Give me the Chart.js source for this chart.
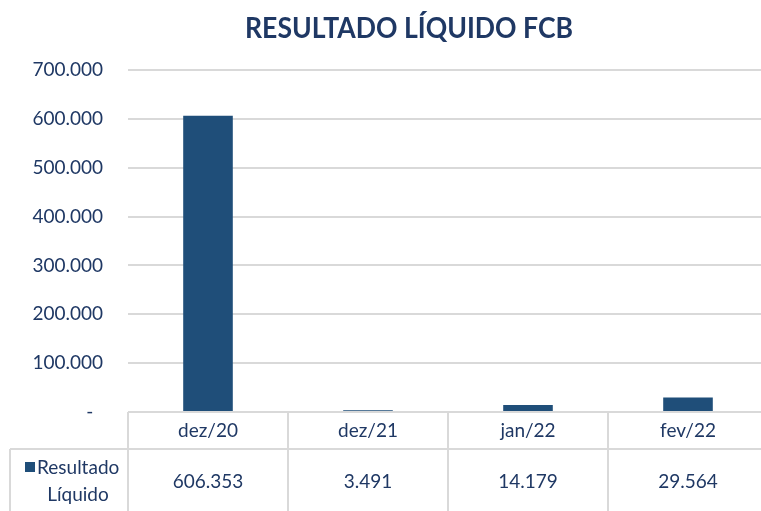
<!DOCTYPE html>
<html>
<head>
<meta charset="utf-8">
<script src="https://cdn.jsdelivr.net/npm/chart.js@4"></script>
<style>
  body { margin:0; background:#fff; }
  #wrap { width:761px; height:511px; overflow:hidden; }
</style>
</head>
<body>
<div id="wrap"><canvas id="chart" width="768" height="511"></canvas></div>
<script>
// data
const chartTitle = "RESULTADO LÍQUIDO FCB";
const categories = ["dez/20", "dez/21", "jan/22", "fev/22"];
const seriesName = ["Resultado", "Líquido"];
const resultadoLiquido = [606353, 3491, 14179, 29564];
const yMax = 700000;
const yStep = 100000;

const navy = "#1f3864";
const barBlue = "#1f4e79";
const lineGray = "#d9d9d9";
const font = "Lato, 'Noto Sans', sans-serif";

function fmt(v){
  if (v === 0) return "-  ";
  return String(v).replace(/\B(?=(\d{3})+(?!\d))/g, ".");
}

// title + data table under the plot
const tablePlugin = {
  id: "tablePlugin",
  afterDraw(chart){
    const ctx = chart.ctx;
    const a = chart.chartArea;
    const x = chart.scales.x;
    const colW = x.getPixelForValue(1) - x.getPixelForValue(0);
    const h = chart.height;
    const rowY = a.bottom + 37;

    ctx.save();
    // title
    ctx.fillStyle = navy;
    ctx.font = "bold 29px " + font;
    ctx.textAlign = "center";
    ctx.textBaseline = "alphabetic";
    ctx.fillText(chartTitle, 409, 38, 328);

    // table lines
    ctx.strokeStyle = lineGray;
    ctx.lineWidth = 2;
    ctx.beginPath();
    ctx.moveTo(a.left, a.bottom); ctx.lineTo(a.right, a.bottom);
    ctx.moveTo(10, rowY); ctx.lineTo(a.right, rowY);
    for (let i = 0; i <= categories.length; i++) {
      const lx = a.left + i * colW;
      ctx.moveTo(lx, a.bottom); ctx.lineTo(lx, h);
    }
    ctx.moveTo(10, rowY); ctx.lineTo(10, h);
    ctx.stroke();

    // header + values
    ctx.font = "19px " + font;
    ctx.textBaseline = "middle";
    ctx.textAlign = "center";
    categories.forEach((c, i) => {
      const cx = x.getPixelForValue(i);
      ctx.fillText(c, cx, a.bottom + 19);
      ctx.fillText(fmt(resultadoLiquido[i]), cx, rowY + 33);
    });

    // legend key
    ctx.fillStyle = barBlue;
    ctx.fillRect(25, 462, 10, 10);
    ctx.fillStyle = navy;
    ctx.textAlign = "left";
    ctx.fillText(seriesName[0], 37, 468);
    ctx.textAlign = "center";
    ctx.fillText(seriesName[1], 78, 495);
    ctx.restore();
  }
};

new Chart(document.getElementById("chart"), {
  type: "bar",
  data: {
    labels: categories,
    datasets: [{
      label: seriesName.join(" "),
      data: resultadoLiquido,
      backgroundColor: barBlue,
      categoryPercentage: 1,
      barPercentage: 0.31
    }]
  },
  options: {
    responsive: false,
    animation: false,
    layout: { padding: { top: 70, bottom: 99, left: 0, right: 0 } },
    plugins: { legend: { display: false }, tooltip: { enabled: false } },
    scales: {
      x: { display: false },
      y: {
        min: 0,
        max: yMax,
        afterFit(scale){ scale.width = 128; },
        border: { display: false },
        grid: { color: lineGray, lineWidth: 2, drawTicks: false },
        ticks: {
          stepSize: yStep,
          padding: 25,
          color: navy,
          font: { family: font, size: 19 },
          callback: v => fmt(v)
        }
      }
    }
  },
  plugins: [tablePlugin]
});
</script>
</body>
</html>
